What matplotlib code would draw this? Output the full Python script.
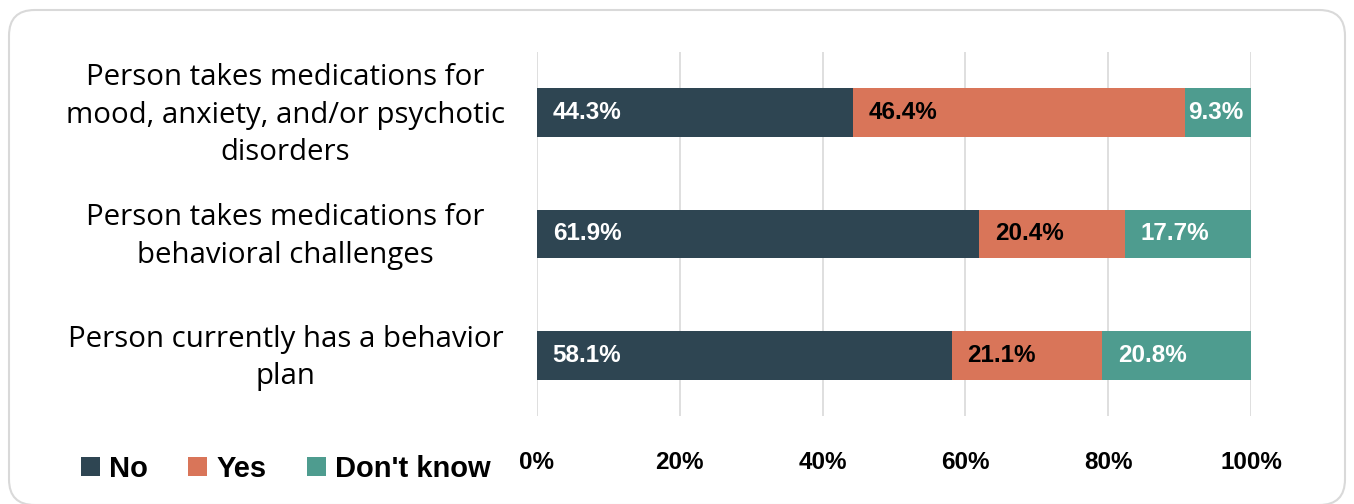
import matplotlib.pyplot as plt
from matplotlib.patches import FancyBboxPatch, Patch
from matplotlib.transforms import ScaledTranslation

# Data
categories = ["Person takes medications for\nmood, anxiety, and/or psychotic\ndisorders",
              "Person takes medications for\nbehavioral challenges",
              "Person currently has a behavior\nplan"]
no_vals = [44.3, 61.9, 58.1]
yes_vals = [46.4, 20.4, 21.1]
dk_vals = [9.3, 17.7, 20.8]
series_names = ["No", "Yes", "Don't know"]
xticks = [0, 20, 40, 60, 80, 100]

colors = ["#2E4552", "#D97559", "#4E9C8F"]
label_colors = ["white", "black", "white"]

plt.rcParams['font.family'] = ['Liberation Sans', 'DejaVu Sans']

fig = plt.figure(figsize=(13.54, 5.04), dpi=100)
ax = fig.add_axes([537/1354, 1-416/504, (1251-537)/1354, (416-52)/504])

# rounded frame around the whole chart
frame = FancyBboxPatch((9/1354, -1/504), (1345-9)/1354, (505-10)/504,
                       boxstyle="round,pad=0,rounding_size=0.019",
                       transform=fig.transFigure, facecolor="white", edgecolor="#D9D9D9", lw=1.5,
                       mutation_aspect=1354/504, zorder=-10)
fig.patches.append(frame)

ypos = list(range(len(categories)))
left = [0, 0, 0]
for vals, col, lcol in zip([no_vals, yes_vals, dk_vals], colors, label_colors):
    ax.barh(ypos, vals, left=left, height=0.4, color=col, zorder=3)
    for y, l, v in zip(ypos, left, vals):
        pad = min(2.2, (v - 8.4) / 2)
        ax.text(l + pad, y, f"{v}%", ha="left", va="center", color=lcol,
                fontsize=17.5, fontweight="bold", zorder=4)
    left = [a + b for a, b in zip(left, vals)]

ax.set_ylim(2.5, -0.5)
ax.set_xlim(0, 100)
ax.set_yticks(ypos)
ax.set_yticklabels(categories, fontsize=21.2, linespacing=1.38, ha="center",
                   family=["Open Sans", "DejaVu Sans"])
ax.tick_params(axis="y", length=0, pad=181)
ax.set_xticks(xticks)
ax.set_xticklabels([f"{t}%" for t in xticks], fontsize=17.5, fontweight="bold")
ax.tick_params(axis="x", length=0, pad=25)
ax.grid(axis="x", color="#D9D9D9", lw=1.2, zorder=0)
for s in ax.spines.values():
    s.set_visible(False)

# nudge the category labels up a little
shift = ScaledTranslation(0, 5/100, fig.dpi_scale_trans)
for lbl in ax.get_yticklabels():
    lbl.set_transform(lbl.get_transform() + shift)

handles = [Patch(facecolor=c) for c in colors]
fig.legend(handles, series_names, loc="center left", bbox_to_anchor=(81/1354, 1-469/504),
           ncol=3, frameon=False, prop={"size": 21, "weight": "bold"},
           handlelength=0.65, handleheight=0.65, handletextpad=0.3, columnspacing=1.4,
           borderpad=0, borderaxespad=0)

fig.savefig("out.png", dpi=100)
